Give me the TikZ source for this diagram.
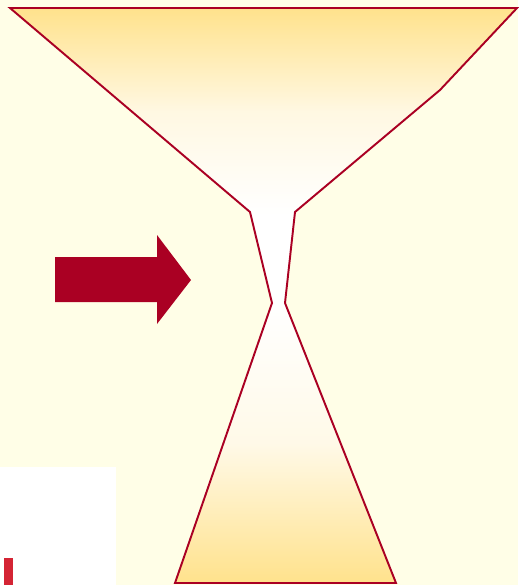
\documentclass[tikz,border=0pt]{standalone}
\usepackage{tikz}
\usetikzlibrary{positioning, calc, backgrounds}
\definecolor{paper}{RGB}{255,254,231}
\definecolor{glassred}{RGB}{170,0,35}
\definecolor{sand}{RGB}{255,226,140}
\definecolor{barred}{RGB}{212,36,52}

\begin{document}
\begin{tikzpicture}[
    x=0.02cm, y=-0.02cm,
    outline/.style={draw=glassred, line width=1.1pt, line join=miter},
    upper/.style={top color=sand, bottom color=white, middle color=white!75!sand},
    lower/.style={top color=white, bottom color=sand, middle color=white!80!sand},
    bigarrow/.style={fill=glassred, draw=none}
]

% page
\fill[paper] (0,0) rectangle (518,585);
\useasboundingbox (0,0) rectangle (518,585);

% corner patch
\fill[white] (0,467) rectangle (116,585);
\fill[barred] (4,558) rectangle (13,585);

% funnel coordinates
\coordinate (tl) at (10,8);
\coordinate (tr) at (517,8);
\coordinate (rk) at (440,90);
\coordinate (rn) at (295,212);
\coordinate (rw) at (285,303);
\coordinate (br) at (396,583);
\coordinate (bl) at (175,583);
\coordinate (lw) at (272,303);
\coordinate (ln) at (250,212);

% glass fill
\begin{scope}
  \clip (tl) -- (tr) -- (rk) -- (rn) -- (rw) -- (lw) -- (ln) -- cycle;
  \fill[white] (0,0) rectangle (518,310);
  \shade[upper] (0,8) rectangle (518,215);
\end{scope}
\shade[lower] (lw) -- (rw) -- (br) -- (bl) -- cycle;
\draw[outline] (tl) -- (tr) -- (rk) -- (rn) -- (rw) -- (br) -- (bl) -- (lw) -- (ln) -- cycle;

% pointer
\fill[bigarrow] (55,257) -- (157,257) -- (157,235) -- (191,280) -- (157,324) -- (157,302) -- (55,302) -- cycle;

\end{tikzpicture}
\end{document}
